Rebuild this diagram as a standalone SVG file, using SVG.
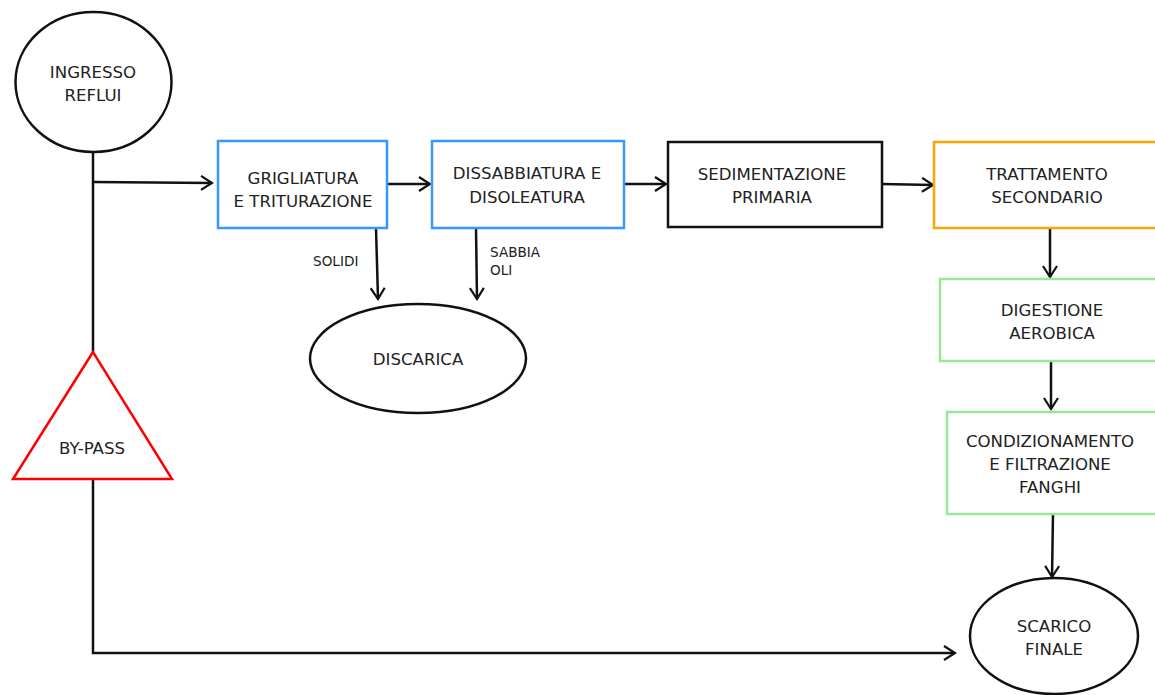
<svg xmlns="http://www.w3.org/2000/svg" width="1155" height="695" viewBox="0 0 1155 695">
<defs>
<marker id="arr" markerWidth="14" markerHeight="16" refX="12" refY="8" orient="auto" markerUnits="userSpaceOnUse">
<path d="M1,1 L12,8 L1,15" fill="none" stroke="#111" stroke-width="2.2"/>
</marker>
<style>
text{font-family:"DejaVu Sans",Verdana,sans-serif;font-size:16.6px;fill:#222;text-anchor:middle}
.sm{font-size:13.6px;text-anchor:start}
.ln{fill:none;stroke:#111;stroke-width:2.5}
.box{fill:#fff;stroke-width:2.5}
</style>
</defs>
<rect width="1155" height="695" fill="#fff"/>
<g id="connectors">
<path class="ln" d="M93,152 V352"/>
<path class="ln" d="M93,182 L212,183" marker-end="url(#arr)"/>
<path class="ln" d="M387,184 L430,184" marker-end="url(#arr)"/>
<path class="ln" d="M624,184 L666,184" marker-end="url(#arr)"/>
<path class="ln" d="M882,184 L933,185" marker-end="url(#arr)"/>
<path class="ln" d="M376,228 L378,299" marker-end="url(#arr)"/>
<path class="ln" d="M476,228 L477,299" marker-end="url(#arr)"/>
<path class="ln" d="M1050,228 V277" marker-end="url(#arr)"/>
<path class="ln" d="M1051,361 V409" marker-end="url(#arr)"/>
<path class="ln" d="M1053,514 L1052,577" marker-end="url(#arr)"/>
<path class="ln" d="M93,479 V653 H955" marker-end="url(#arr)"/>
<text class="sm" x="313" y="266">SOLIDI</text>
<text class="sm" x="490" y="257">SABBIA</text>
<text class="sm" x="490" y="275">OLI</text>
</g>
<g id="ingresso">
<ellipse cx="93.5" cy="82" rx="78" ry="70" fill="#fff" stroke="#111" stroke-width="2.5"/>
<text x="93" y="78">INGRESSO</text>
<text x="93" y="101">REFLUI</text>
</g>
<g id="grigliatura">
<rect class="box" x="218" y="141" width="169" height="87" stroke="#3399ff"/>
<text x="303" y="184">GRIGLIATURA</text>
<text x="303" y="207">E TRITURAZIONE</text>
</g>
<g id="dissabbiatura">
<rect class="box" x="432" y="141" width="192" height="87" stroke="#3399ff"/>
<text x="527" y="179">DISSABBIATURA E</text>
<text x="527" y="203">DISOLEATURA</text>
</g>
<g id="sedimentazione">
<rect class="box" x="668" y="142" width="214" height="85" stroke="#111"/>
<text x="772" y="180">SEDIMENTAZIONE</text>
<text x="772" y="203">PRIMARIA</text>
</g>
<g id="trattamento">
<rect class="box" x="934" y="142" width="230" height="86" stroke="#ffa500"/>
<text x="1047" y="180">TRATTAMENTO</text>
<text x="1047" y="203">SECONDARIO</text>
</g>
<g id="digestione">
<rect class="box" x="940" y="279" width="224" height="82" stroke="#99e699"/>
<text x="1052" y="316">DIGESTIONE</text>
<text x="1052" y="339">AEROBICA</text>
</g>
<g id="condizionamento">
<rect class="box" x="947" y="412" width="217" height="102" stroke="#99e699"/>
<text x="1050" y="447">CONDIZIONAMENTO</text>
<text x="1050" y="470">E FILTRAZIONE</text>
<text x="1050" y="493">FANGHI</text>
</g>
<g id="discarica">
<ellipse cx="418" cy="358.5" rx="108" ry="54.5" fill="#fff" stroke="#111" stroke-width="2.5"/>
<text x="418" y="365">DISCARICA</text>
</g>
<g id="bypass">
<polygon points="93,352 13,479 172,479" fill="#fff" stroke="#ff0000" stroke-width="2.5"/>
<text x="92" y="454">BY-PASS</text>
</g>
<g id="scarico">
<ellipse cx="1054" cy="636" rx="84" ry="58" fill="#fff" stroke="#111" stroke-width="2.5"/>
<text x="1054" y="632">SCARICO</text>
<text x="1054" y="655">FINALE</text>
</g>
</svg>
